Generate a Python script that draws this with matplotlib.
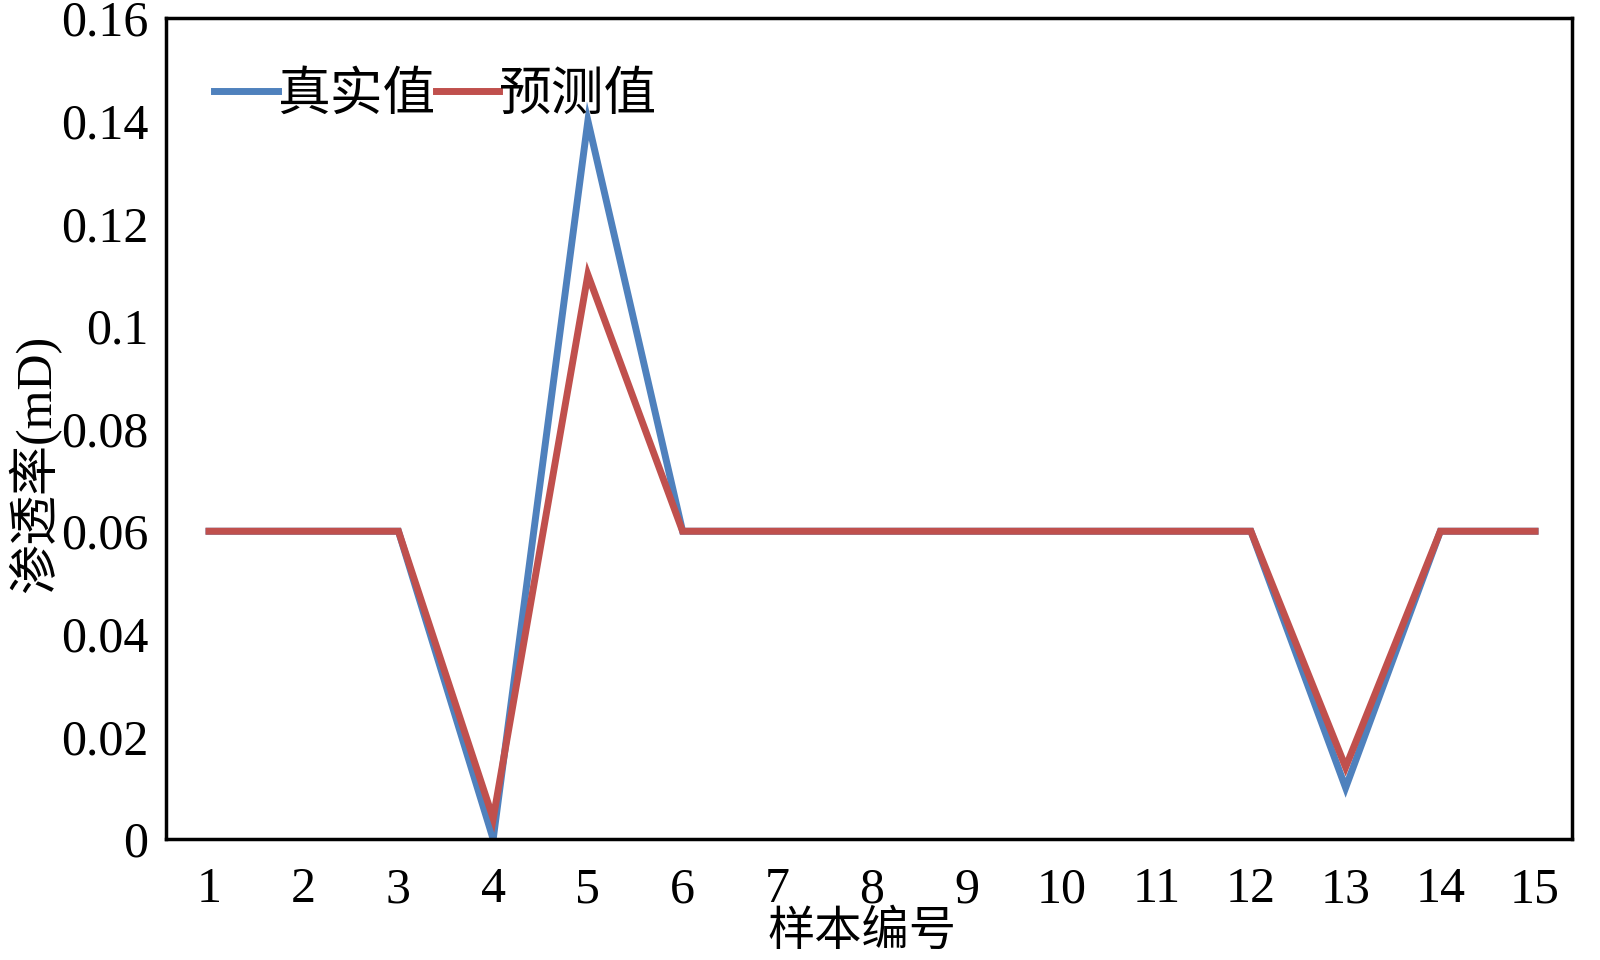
import matplotlib
matplotlib.use("Agg")
import matplotlib.pyplot as plt

samples = list(range(1, 16))
true_vals = [0.06, 0.06, 0.06, 0.0, 0.14, 0.06, 0.06, 0.06, 0.06, 0.06, 0.06, 0.06, 0.01, 0.06, 0.06]
pred_vals = [0.06, 0.06, 0.06, 0.004, 0.11, 0.06, 0.06, 0.06, 0.06, 0.06, 0.06, 0.06, 0.014, 0.06, 0.06]
y_ticks = [0, 0.02, 0.04, 0.06, 0.08, 0.1, 0.12, 0.14, 0.16]
y_tick_labels = ["0", "0.02", "0.04", "0.06", "0.08", "0.1", "0.12", "0.14", "0.16"]
series_names = ["真实值", "预测值"]
x_label = "样本编号"
y_label = "渗透率(mD)"

plt.rcParams['font.family'] = ['Liberation Serif', 'Noto Sans CJK SC']

fig = plt.figure(figsize=(16, 9.6), dpi=100)
ax = fig.add_axes([0.104, 0.126, 0.8785, 0.855])

ax.plot(samples, true_vals, color="#4F81BD", lw=5, solid_joinstyle='miter', label=series_names[0])
ax.plot(samples, pred_vals, color="#C0504D", lw=5, solid_joinstyle='miter', label=series_names[1])

ax.set_xlim(0.55, 15.39)
ax.set_ylim(0, 0.16)
ax.set_xticks(samples)
ax.set_xticklabels([str(s) for s in samples])
ax.set_yticks(y_ticks)
ax.set_yticklabels(y_tick_labels)
ax.tick_params(axis='both', length=0, labelsize=36)
ax.tick_params(axis='x', pad=20)
ax.tick_params(axis='y', pad=13)

for sp in ax.spines.values():
    sp.set_linewidth(2.5)
    sp.set_color('black')

ax.set_xlabel(x_label, fontsize=34, va='center')
ax.xaxis.set_label_coords(0.495, -0.114)
ax.set_ylabel(y_label, fontsize=36, va='center', ha='center')
ax.yaxis.set_label_coords(-0.094, 0.457)

leg = ax.legend(loc='center left', bbox_to_anchor=(0.034, 0.905), ncol=2, frameon=False,
                fontsize=38, handlelength=1.2, handletextpad=0.0, columnspacing=0.0,
                borderaxespad=0, borderpad=0)

fig.savefig("out.png", dpi=100, facecolor='white')
